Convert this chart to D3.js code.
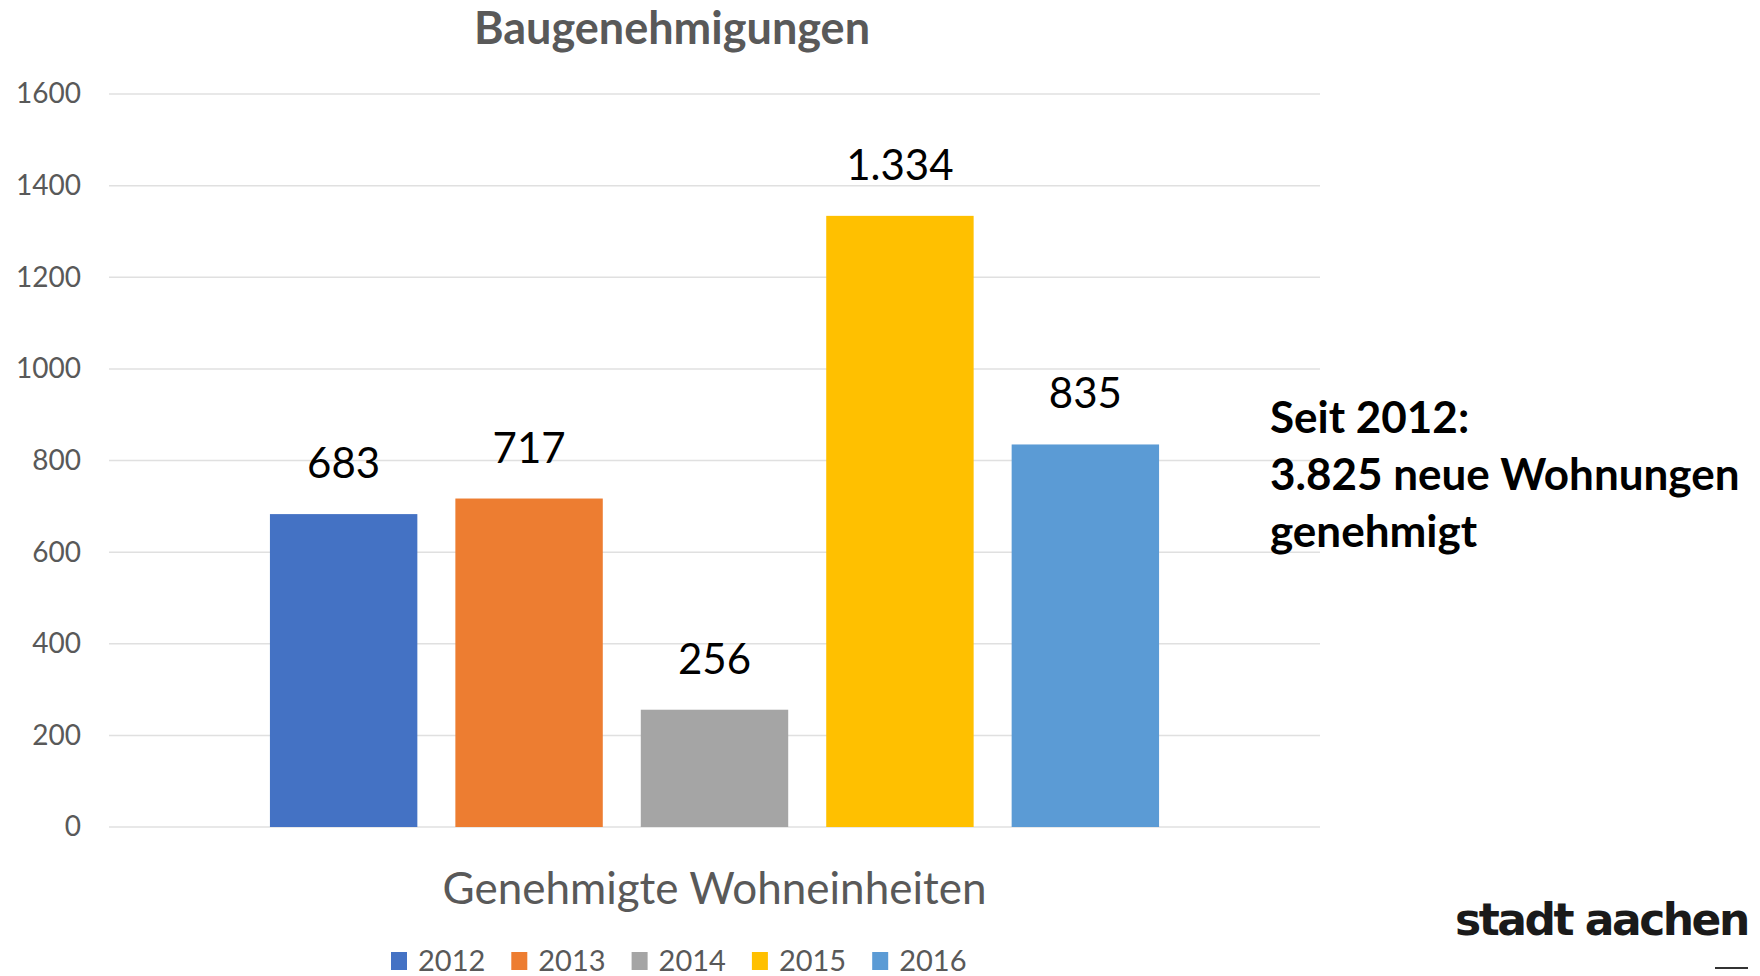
<!DOCTYPE html>
<html>
<head>
<meta charset="utf-8">
<script src="https://cdn.jsdelivr.net/npm/d3@7"></script>
<style>
  body { margin: 0; background: #fff; }
  svg { display: block; }
</style>
</head>
<body>
<div id="chart"></div>
<script>
const svgWidth = 1760;
const svgHeight = 976;

// data
const years = ["2012", "2013", "2014", "2015", "2016"];
const values = [683, 717, 256, 1334, 835];
const valueLabels = ["683", "717", "256", "1.334", "835"];
const colors = ["#4472C4", "#ED7D31", "#A5A5A5", "#FFC000", "#5B9BD5"];
const yTicks = [0, 200, 400, 600, 800, 1000, 1200, 1400, 1600];
const chartTitle = "Baugenehmigungen";
const category = "Genehmigte Wohneinheiten";
const noteLines = ["Seit 2012:", "3.825 neue Wohnungen", "genehmigt"];

const svg = d3.select("#chart")
  .append("svg")
  .attr("width", svgWidth)
  .attr("height", svgHeight);

const font = "Lato, 'Open Sans', sans-serif";
const grey = "#595959";

// plot area
const plot = {left: 109, right: 1320, top: 94, bottom: 827};

const y = d3.scaleLinear()
  .domain([0, 1600])
  .range([plot.bottom, plot.top]);

// one category, bars per year inside it
const x0 = d3.scaleBand()
  .domain([category])
  .range([plot.left, plot.right])
  .paddingInner(0)
  .paddingOuter(0.181);

const x = d3.scaleBand()
  .domain(years)
  .range([x0(category), x0(category) + x0.bandwidth()])
  .paddingInner(0.205)
  .paddingOuter(0);

const color = d3.scaleOrdinal().domain(years).range(colors);

// gridlines
svg.append("g")
  .selectAll("line")
  .data(yTicks)
  .join("line")
  .attr("x1", plot.left)
  .attr("x2", plot.right)
  .attr("y1", d => y(d))
  .attr("y2", d => y(d))
  .attr("stroke", "#e0e0e0")
  .attr("stroke-width", 1.5);

// y axis labels
const yAxis = svg.append("g")
  .attr("transform", `translate(${plot.left - 28},0)`)
  .call(d3.axisLeft(y).tickValues(yTicks).tickFormat(d3.format("d")).tickSize(0).tickPadding(0));
yAxis.select(".domain").remove();
yAxis.selectAll("text")
  .attr("fill", grey)
  .style("font-family", font)
  .style("font-size", "28px");

const data = years.map((yr, i) => ({year: yr, value: values[i], label: valueLabels[i]}));

// bars
svg.append("g")
  .selectAll("rect")
  .data(data)
  .join("rect")
  .attr("x", d => x(d.year))
  .attr("y", d => y(d.value))
  .attr("width", x.bandwidth())
  .attr("height", d => y(0) - y(d.value))
  .attr("fill", d => color(d.year));

// value labels
svg.append("g")
  .selectAll("text")
  .data(data)
  .join("text")
  .attr("x", d => x(d.year) + x.bandwidth() / 2)
  .attr("y", d => y(d.value) - 36)
  .attr("text-anchor", "middle")
  .attr("fill", "#000")
  .style("font-family", font)
  .style("font-size", "42px")
  .text(d => d.label);

// title
svg.append("text")
  .attr("x", 672)
  .attr("y", 44)
  .attr("text-anchor", "middle")
  .attr("fill", grey)
  .style("font-family", font)
  .style("font-weight", "bold")
  .style("font-size", "45px")
  .text(chartTitle);

// category label under the axis
svg.append("text")
  .attr("x", x0(category) + x0.bandwidth() / 2)
  .attr("y", 904)
  .attr("text-anchor", "middle")
  .attr("fill", grey)
  .style("font-family", font)
  .style("font-size", "44px")
  .text(category);

// legend
const legend = svg.append("g")
  .selectAll("g")
  .data(years)
  .join("g")
  .attr("transform", (d, i) => `translate(${391 + i * 120.3},961)`);
legend.append("rect")
  .attr("x", 0)
  .attr("y", -9)
  .attr("width", 16)
  .attr("height", 18)
  .attr("fill", d => color(d));
legend.append("text")
  .attr("x", 27)
  .attr("y", 10)
  .attr("fill", grey)
  .style("font-family", font)
  .style("font-size", "29px")
  .text(d => d);

// side note
svg.append("g")
  .selectAll("text")
  .data(noteLines)
  .join("text")
  .attr("x", 1270)
  .attr("y", (d, i) => 433 + i * 57)
  .attr("fill", "#000")
  .style("font-family", font)
  .style("font-weight", "bold")
  .style("font-size", "44px")
  .text(d => d);

// logo text
svg.append("text")
  .attr("x", 1455)
  .attr("y", 935)
  .attr("fill", "#1a1a1a")
  .style("font-family", "'DejaVu Sans', sans-serif")
  .style("font-weight", "bold")
  .style("font-size", "44px")
  .style("letter-spacing", "-2.5px")
  .text("stadt aachen");
svg.append("line")
  .attr("x1", 1715).attr("x2", 1748)
  .attr("y1", 968).attr("y2", 968)
  .attr("stroke", "#333").attr("stroke-width", 2);
</script>
</body>
</html>
